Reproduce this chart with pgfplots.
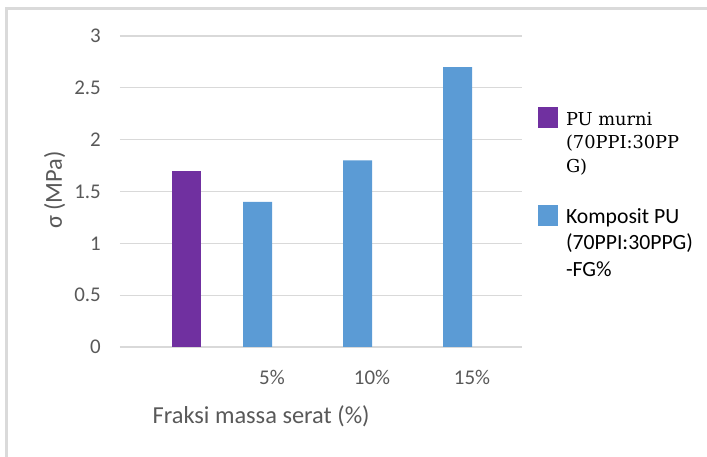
\documentclass[border=0pt]{standalone}
\usepackage{fontspec}
\setmainfont{Carlito}
\newfontfamily\slab{DejaVu Serif}
\usepackage{pgfplots}
\pgfplotsset{compat=1.18}

\definecolor{txtgray}{HTML}{595959}
\definecolor{gridgray}{HTML}{D9D9D9}
\definecolor{framegray}{HTML}{DADADA}
\definecolor{pupurple}{HTML}{7030A0}
\definecolor{kompblue}{HTML}{5B9BD5}

% invisible strut: height #1 above the baseline, depth #2 below it
\newcommand\lstrut[2]{\rule[-#2]{0pt}{\dimexpr#1+#2\relax}}
\newcommand\slabtext{\slab\fontsize{17.8bp}{23.5bp}\selectfont}
\newcommand\sanstext{\fontsize{21.7bp}{26.5bp}\selectfont}

\pgfplotsset{
  sq legend/.style={legend image code/.code={\fill[##1] (0bp,-2.5bp) rectangle (20bp,18bp);}},
}

\begin{document}
\begin{tikzpicture}
\useasboundingbox (0,0) rectangle (707bp,457bp);
% chart frame
\draw[line width=2.7bp, framegray] (6.3bp,0) -- (6.3bp,448.7bp) -- (707bp,448.7bp);
\begin{axis}[
  at={(120bp,110bp)}, anchor=south west,
  scale only axis, width=402bp, height=311bp,
  xmin=-0.52, xmax=3.5, ymin=0, ymax=3,
  ytick={0,0.5,...,3},
  xtick={1,2,3}, xticklabels={5\%,10\%,15\%},
  axis line style={draw=none},
  major tick length=0pt,
  ymajorgrids, grid style={gridgray, line width=1.1bp},
  /pgf/number format/assume math mode=true,
  yticklabel style={font=\fontsize{21}{25}\selectfont, text=txtgray, anchor=east, inner sep=0pt, xshift=-19bp},
  xticklabel style={font=\fontsize{21}{25}\selectfont, text=txtgray, anchor=base, inner sep=0pt, yshift=-38bp},
  xlabel={Fraksi massa serat (\%)},
  xlabel style={at={([yshift=-76bp]axis description cs:0.351,0)}, anchor=base, inner sep=0pt, font=\fontsize{24.5}{29}\selectfont, text=txtgray},
  ylabel={σ (MPa)},
  ylabel style={at={([xshift=-58bp]axis description cs:0,0.505)}, anchor=base, inner sep=0pt, font=\fontsize{24.5}{29}\selectfont, text=txtgray},
  ybar, bar width=0.29,
  legend style={at={(axis description cs:1.0398,0.7717)}, anchor=north west,
    draw=none, fill=none, inner sep=0pt, outer sep=0pt, row sep=0pt,
    nodes={inner sep=0pt, text depth=, text height=, text=black},
    /tikz/every odd column/.append style={column sep=8bp}},
  legend cell align=left,
  legend style={cells={anchor=base west}},
]
\addplot[fill=pupurple, draw=none, bar shift=0.14, sq legend] coordinates {(0,1.7)};
\addlegendentry{\slabtext\lstrut{18bp}{5.5bp}PU murni}
\addlegendimage{empty legend}
\addlegendentry{\slabtext\lstrut{18bp}{5.5bp}(70PPI:30PP}
\addlegendimage{empty legend}
\addlegendentry{\slabtext\lstrut{18bp}{33bp}G)}
\addplot[fill=kompblue, draw=none, bar shift=-0.145, sq legend] coordinates {(1,1.4) (2,1.8) (3,2.7)};
\addlegendentry{\sanstext\lstrut{18bp}{8.5bp}Komposit PU}
\addlegendimage{empty legend}
\addlegendentry{\sanstext\lstrut{18bp}{8.5bp}(70PPI:30PPG)}
\addlegendimage{empty legend}
\addlegendentry{\sanstext\lstrut{18bp}{6bp}-FG\%}
\end{axis}
\end{tikzpicture}
\end{document}
